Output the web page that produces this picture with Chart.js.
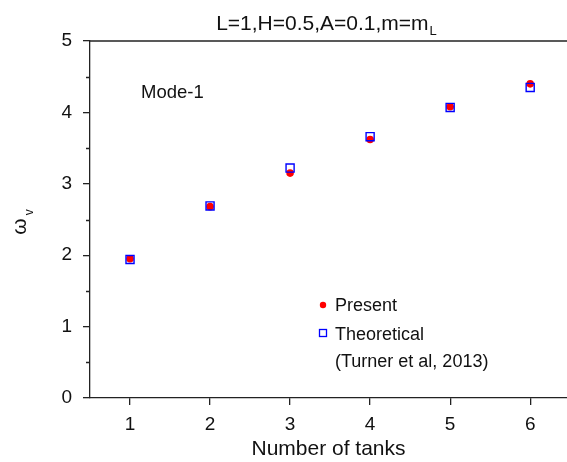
<!DOCTYPE html>
<html>
<head>
<meta charset="utf-8">
<script src="https://cdn.jsdelivr.net/npm/chart.js@4.4.1/dist/chart.umd.min.js"></script>
<style>
html,body{margin:0;padding:0;background:#fff;overflow:hidden;}
#wrap{width:567px;height:462px;}
</style>
</head>
<body>
<div id="wrap"><canvas id="c" width="567" height="462"></canvas></div>
<script>
const tanks = [1, 2, 3, 4, 5, 6];
const present = [1.95, 2.68, 3.15, 3.62, 4.08, 4.40];
const theoretical = [1.94, 2.69, 3.22, 3.66, 4.07, 4.35];
const seriesNames = ['Present', 'Theoretical'];
const legendNote = '(Turner et al, 2013)';
const titleMain = 'L=1,H=0.5,A=0.1,m=m';
const titleSub = 'L';
const yLabelMain = 'ω';
const yLabelSub = 'v';
const xLabel = 'Number of tanks';
const modeLabel = 'Mode-1';
const yMinorTicks = [0.5, 1.5, 2.5, 3.5, 4.5];

const FONT = '"Liberation Sans", Arial, Helvetica, sans-serif';
const TXT = '#111';

const decor = {
  id: 'decor',
  afterDraw(chart) {
    const ctx = chart.ctx;
    const a = chart.chartArea;
    const ys = chart.scales.y;
    ctx.save();
    // top border
    ctx.strokeStyle = '#222';
    ctx.lineWidth = 1.3;
    ctx.beginPath();
    ctx.moveTo(a.left, a.top);
    ctx.lineTo(a.right, a.top);
    ctx.stroke();
    // minor y ticks
    ctx.beginPath();
    yMinorTicks.forEach(v => {
      const py = Math.round(ys.getPixelForValue(v)) + 0.5;
      ctx.moveTo(a.left - 4, py);
      ctx.lineTo(a.left, py);
    });
    ctx.stroke();

    // title with subscript
    ctx.fillStyle = TXT;
    ctx.textBaseline = 'alphabetic';
    ctx.font = '21px ' + FONT;
    const wMain = ctx.measureText(titleMain).width;
    ctx.font = '13px ' + FONT;
    const wSub = ctx.measureText(titleSub).width;
    const tx = 326 - (wMain + wSub) / 2;
    ctx.font = '21px ' + FONT;
    ctx.textAlign = 'left';
    ctx.fillText(titleMain, tx, 30);
    ctx.font = '13px ' + FONT;
    ctx.fillText(titleSub, tx + wMain + 1, 35);

    // y label with subscript (rotated)
    ctx.save();
    const cy = (a.top + a.bottom) / 2;
    ctx.translate(26, cy + 4);
    ctx.rotate(-Math.PI / 2);
    ctx.font = '21px ' + FONT;
    const wo = ctx.measureText(yLabelMain).width;
    ctx.textAlign = 'left';
    ctx.fillText(yLabelMain, -wo / 2 - 3, 0);
    ctx.font = '12px ' + FONT;
    ctx.fillText(yLabelSub, wo / 2, 7);
    ctx.restore();

    // Mode-1 annotation
    ctx.font = '18.5px ' + FONT;
    ctx.textAlign = 'left';
    ctx.textBaseline = 'middle';
    ctx.fillText(modeLabel, a.left + 51, a.top + 52);

    // legend
    const lx = a.left + 233;
    const ly = a.top + 264;
    const ds = chart.data.datasets;
    ctx.fillStyle = ds[0].backgroundColor;
    ctx.beginPath();
    ctx.arc(lx, ly, 3.2, 0, Math.PI * 2);
    ctx.fill();
    ctx.strokeStyle = ds[1].borderColor;
    ctx.lineWidth = 1.3;
    ctx.strokeRect(lx - 3.5, ly + 24.5, 7, 7);
    ctx.fillStyle = TXT;
    ctx.font = '18px ' + FONT;
    ctx.fillText(seriesNames[0], lx + 12, ly + 1);
    ctx.fillText(seriesNames[1], lx + 12, ly + 30);
    ctx.fillText(legendNote, lx + 12, ly + 57);
    ctx.restore();
  }
};

new Chart(document.getElementById('c'), {
  type: 'scatter',
  data: {
    datasets: [
      {
        label: seriesNames[0],
        data: tanks.map((t, i) => ({x: t, y: present[i]})),
        backgroundColor: '#ff0000',
        borderColor: '#ff0000',
        pointStyle: 'circle',
        pointRadius: 3.8,
        borderWidth: 0,
        order: 1
      },
      {
        label: seriesNames[1],
        data: tanks.map((t, i) => ({x: t, y: theoretical[i]})),
        backgroundColor: 'rgba(0,0,0,0)',
        borderColor: '#0000ff',
        pointStyle: 'rect',
        pointRadius: 5.7,
        borderWidth: 1.4,
        order: 0
      }
    ]
  },
  options: {
    responsive: false,
    animation: false,
    events: [],
    layout: {autoPadding: false, padding: {top: 41, left: 0, right: 0, bottom: 0}},
    plugins: {legend: {display: false}, tooltip: {enabled: false}, title: {display: false}},
    scales: {
      x: {
        type: 'linear',
        min: 0.5,
        max: 6.46,
        afterBuildTicks: s => { s.ticks = tanks.map(v => ({value: v})); },
        afterFit: s => { s.height = 64; },
        ticks: {stepSize: 1, color: TXT, font: {family: FONT, size: 19}, padding: 8},
        grid: {display: true, drawOnChartArea: false, drawTicks: true, tickLength: 7, color: '#222', lineWidth: 1.3},
        border: {display: true, color: '#222', width: 1.3},
        title: {display: true, text: xLabel, color: TXT, font: {family: FONT, size: 21}, padding: {top: 0, bottom: 0}}
      },
      y: {
        type: 'linear',
        min: 0,
        max: 5,
        afterFit: s => { s.width = 90; },
        ticks: {stepSize: 1, color: TXT, font: {family: FONT, size: 19}, padding: 11},
        grid: {display: true, drawOnChartArea: false, drawTicks: true, tickLength: 7, color: '#222', lineWidth: 1.3},
        border: {display: true, color: '#222', width: 1.3}
      }
    }
  },
  plugins: [decor]
});
</script>
</body>
</html>
